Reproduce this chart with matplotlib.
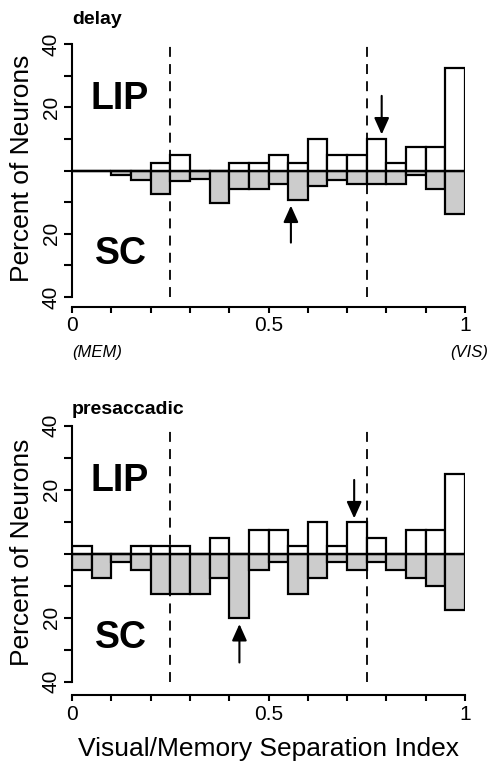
import matplotlib.pyplot as plt

plt.rcParams['font.family'] = ['Liberation Sans', 'DejaVu Sans']

# bins of the separation index (left edges, width 0.05)
bin_starts = [0.00, 0.05, 0.10, 0.15, 0.20, 0.25, 0.30, 0.35, 0.40, 0.45,
              0.50, 0.55, 0.60, 0.65, 0.70, 0.75, 0.80, 0.85, 0.90, 0.95]
bin_width = 0.05

# percent of neurons per bin
delay_lip = [0, 0, 0, 0, 2.5, 5, 0, 0, 2.5, 2.5, 5, 2.5, 10, 5, 5, 10, 2.5, 7.5, 7.5, 32.5]
delay_sc = [0, 0, 1.3, 3.0, 7.3, 3.3, 2.8, 10.3, 6.0, 6.0, 4.4, 9.3, 5.0, 2.9, 4.4, 4.4, 4.4, 1.4, 6.0, 13.8]
presacc_lip = [2.5, 0, 0, 2.5, 2.5, 2.5, 0, 5, 0, 7.5, 7.5, 2.5, 10, 2.5, 10, 5, 0, 7.5, 7.5, 25]
presacc_sc = [5, 7.5, 2.5, 5, 12.5, 12.5, 12.5, 7.5, 20, 5, 2.5, 12.5, 7.5, 2.5, 5, 2.5, 5, 7.5, 10, 17.5]

# arrows: (x, y_start, y_end)
delay_arrows = [(0.788, 23.6, 11.4), (0.557, -22.8, -11.1)]
presacc_arrows = [(0.718, 23.0, 11.0), (0.426, -34.0, -22.0)]

divider_lines = [0.25, 0.75]
ytick_vals = [-40, -30, -20, -10, 0, 10, 20, 30, 40]
ytick_text = ['40', '', '20', '', '', '', '20', '', '40']

W, H = 493, 761
fig = plt.figure(figsize=(W / 100, H / 100), dpi=100)
ax1 = fig.add_axes([72 / W, 1 - 297 / H, 393 / W, 253 / H])
ax2 = fig.add_axes([72 / W, 1 - 681.7 / H, 393 / W, 256.2 / H])


def draw_panel(ax, lip, sc, arrows, xoffset):
    ax.bar(bin_starts, [-v for v in sc], width=bin_width, align='edge',
           color='#cccccc', edgecolor='black', linewidth=1.6, zorder=2)
    ax.bar(bin_starts, lip, width=bin_width, align='edge',
           color='white', edgecolor='black', linewidth=1.6, zorder=2)
    ax.axhline(0, color='black', linewidth=1.6, zorder=3)
    for xv in divider_lines:
        ax.plot([xv, xv], [-40, 40], color='black', linewidth=1.3,
                linestyle=(0, (5.5, 4)), zorder=4)
    for xa, y0, y1 in arrows:
        ax.annotate('', xy=(xa, y1), xytext=(xa, y0),
                    arrowprops=dict(arrowstyle='-|>,head_length=1.0,head_width=0.45',
                                    color='black', lw=1.5, shrinkA=0, shrinkB=0))

    ax.set_xlim(0, 1)
    ax.set_ylim(-40, 40)
    ax.spines['top'].set_visible(False)
    ax.spines['right'].set_visible(False)
    ax.spines['left'].set_linewidth(1.5)
    ax.spines['bottom'].set_linewidth(1.5)
    ax.spines['bottom'].set_position(('outward', xoffset))
    ax.spines['bottom'].set_bounds(0, 1)

    ax.set_yticks(ytick_vals)
    ax.set_yticklabels(ytick_text, rotation=90, va='center', fontsize=15)
    ax.tick_params(axis='y', direction='out', length=6, width=1.5, pad=2)

    ax.set_xticks([0, 0.5, 1])
    ax.set_xticklabels(['0', '0.5', '1'], fontsize=15)
    ax.set_xticks([0.1, 0.2, 0.3, 0.4, 0.6, 0.7, 0.8, 0.9], minor=True)
    ax.tick_params(axis='x', which='both', direction='out', length=4, width=1.5, pad=3)

    ax.text(0.0476, 19.5, 'LIP', fontsize=27, fontweight='bold', va='baseline')
    ax.text(0.0585, -29.5, 'SC', fontsize=27, fontweight='bold', va='baseline')


draw_panel(ax1, delay_lip, delay_sc, delay_arrows, 7)
draw_panel(ax2, presacc_lip, presacc_sc, presacc_arrows, 9.5)

fig.text(72 / W, 1 - 24 / H, 'delay', fontsize=14, fontweight='bold', va='baseline')
fig.text(72 / W, 1 - 414 / H, 'presaccadic', fontsize=14, fontweight='bold', va='baseline')

fig.text(22 / W, 1 - 168 / H, 'Percent of Neurons', rotation=90, fontsize=19,
         ha='center', va='center')
fig.text(22 / W, 1 - 552 / H, 'Percent of Neurons', rotation=90, fontsize=19,
         ha='center', va='center')

fig.text(72 / W, 1 - 357 / H, '(MEM)', fontsize=12, style='italic', va='baseline')
fig.text(488 / W, 1 - 357 / H, '(VIS)', fontsize=12, style='italic', va='baseline', ha='right')

fig.text(268 / W, 1 - 749 / H, 'Visual/Memory Separation Index', fontsize=19,
         ha='center', va='center')

fig.savefig('out.png', dpi=100)
